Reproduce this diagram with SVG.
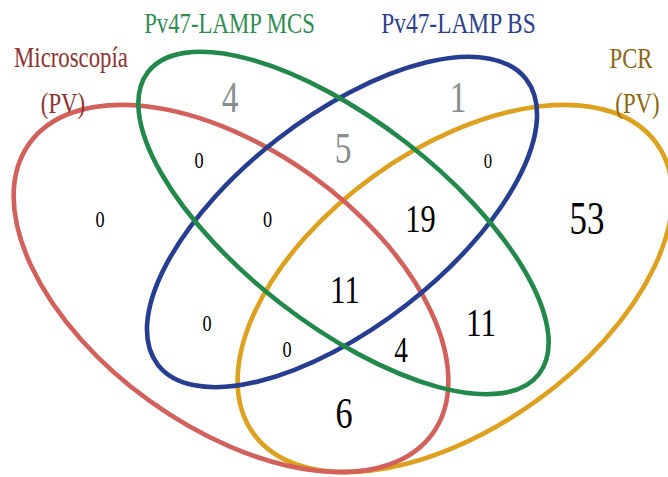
<svg xmlns="http://www.w3.org/2000/svg" width="668" height="477" viewBox="0 0 668 477">
  <style>
    .set { fill: none; stroke-width: 4.6; }
    .lbl { font-family: "Liberation Serif", "Times New Roman", serif; font-size: 30px; text-anchor: middle; }
    .num { font-family: "Liberation Serif", "Times New Roman", serif; text-anchor: middle; fill: #000; }
    .only { fill: #858f8f; }
  </style>
  <rect width="668" height="477" fill="#fff"/>

  <!-- set outlines -->
  <g id="connectors">
    <ellipse id="pcr" class="set" stroke="#dda11f" cx="455" cy="288.5" rx="248.4" ry="138.8" transform="rotate(-35.7 455 288.5)"/>
    <ellipse id="micro" class="set" stroke="#d2605b" cx="231" cy="288.5" rx="248.4" ry="138.8" transform="rotate(35.7 231 288.5)"/>
    <ellipse id="bs" class="set" stroke="#263e91" cx="342" cy="222" rx="233" ry="105" transform="rotate(-37.8 342 222)"/>
    <ellipse id="mcs" class="set" stroke="#22894b" cx="343.5" cy="223" rx="247" ry="102" transform="rotate(37.7 343.5 223)"/>
  </g>

  <!-- set names -->
  <g id="label-micro" fill="#8e3232">
    <text class="lbl" transform="translate(71 67) scale(0.76 1)">Microscopía</text>
    <text class="lbl" transform="translate(63 113) scale(0.76 1)">(PV)</text>
  </g>
  <g id="label-mcs" fill="#2e8c52">
    <text class="lbl" transform="translate(229.5 33) scale(0.76 1)">Pv47-LAMP MCS</text>
  </g>
  <g id="label-bs" fill="#2c3f8c">
    <text class="lbl" transform="translate(458.5 33) scale(0.78 1)">Pv47-LAMP BS</text>
  </g>
  <g id="label-pcr" fill="#8b6510">
    <text class="lbl" transform="translate(631 68) scale(0.76 1)">PCR</text>
    <text class="lbl" transform="translate(637.5 113) scale(0.76 1)">(PV)</text>
  </g>

  <!-- region counts -->
  <g id="counts">
    <text class="num only" font-size="44" transform="translate(230 112) scale(0.76 1)">4</text>
    <text class="num only" font-size="44" transform="translate(458 112) scale(0.76 1)">1</text>
    <text class="num only" font-size="44" transform="translate(343 163) scale(0.76 1)">5</text>
    <text class="num" font-size="24" transform="translate(199 168) scale(0.76 1)">0</text>
    <text class="num" font-size="24" transform="translate(100 227) scale(0.76 1)">0</text>
    <text class="num" font-size="24" transform="translate(267.5 227) scale(0.76 1)">0</text>
    <text class="num" font-size="24" transform="translate(207 331) scale(0.76 1)">0</text>
    <text class="num" font-size="24" transform="translate(287 357) scale(0.76 1)">0</text>
    <text class="num" font-size="22" transform="translate(488 168) scale(0.76 1)">0</text>
    <text class="num" font-size="40" transform="translate(420.5 232) scale(0.76 1)">19</text>
    <text class="num" font-size="46" transform="translate(587 234) scale(0.76 1)">53</text>
    <text class="num" font-size="40" transform="translate(345 303) scale(0.76 1)">11</text>
    <text class="num" font-size="41" transform="translate(481 336) scale(0.76 1)">11</text>
    <text class="num" font-size="36" transform="translate(401 362) scale(0.76 1)">4</text>
    <text class="num" font-size="45" transform="translate(344 428) scale(0.76 1)">6</text>
  </g>
</svg>
